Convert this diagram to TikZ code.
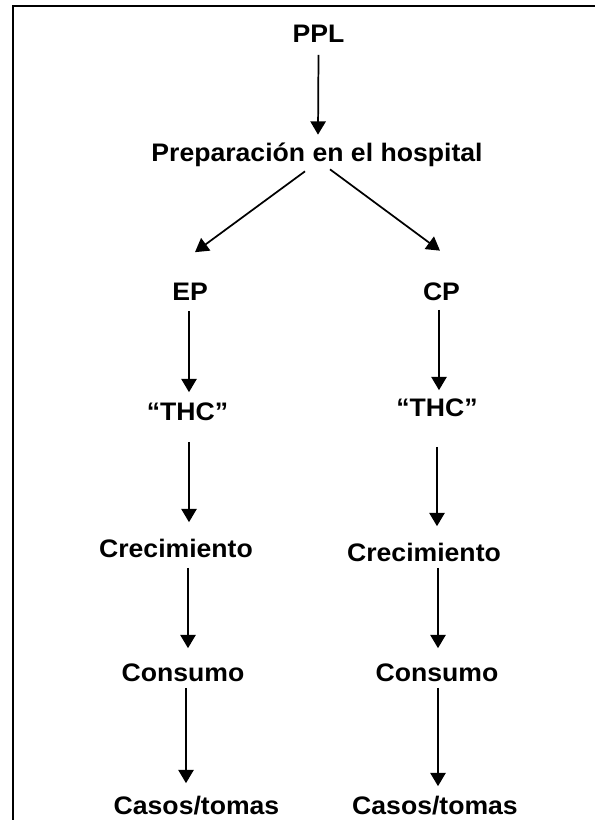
\documentclass[tikz,border=0pt]{standalone}
\usepackage{fontspec}
\setmainfont{Liberation Sans}[FakeStretch=1.05]
\usetikzlibrary{arrows.meta,calc}
\tikzset{
  lbl/.style={font=\fontsize{19}{21}\selectfont\bfseries,inner sep=0pt,text height=13.6pt,text depth=0pt},
  arr/.style={line width=1.3pt,-{Triangle[length=10pt,width=11.5pt]}},
}
\begin{document}
\begin{tikzpicture}[x=0.75pt,y=0.75pt,yscale=-1,xscale=1]
\useasboundingbox (0,0) rectangle (595,820);
%Frame
\draw [line width=1.5pt] (13,820) -- (13,5.7) -- (596,5.7) ;
% Text Node
\node [lbl] (ppl) at (318.5,33.5) {PPL};
% Text Node
\node [lbl] (prep) at (317,152) {Preparación en el hospital};
% Text Node
\node [lbl] (ep) at (190,291.5) {EP};
% Text Node
\node [lbl] (cp) at (441.5,291) {CP};
% Text Node
\node [lbl] (thcL) at (187.5,411) {“THC”};
% Text Node
\node [lbl] (thcR) at (437,407) {“THC”};
% Text Node
\node [lbl] (crecL) at (176,548) {Crecimiento};
% Text Node
\node [lbl] (crecR) at (424,552) {Crecimiento};
% Text Node
\node [lbl] (consL) at (183,672) {Consumo};
% Text Node
\node [lbl] (consR) at (437,672) {Consumo};
% Text Node
\node [lbl] (casL) at (196.5,805) {Casos/tomas};
% Text Node
\node [lbl] (casR) at (435,805) {Casos/tomas};
%Straight Lines
\draw [arr] ($(ppl.south)+(0,12)$) -- ($(prep.north)+(1,-8)$) ;
\draw [arr] ($(prep.south)+(-12,10)$) -- ($(ep.north)+(5,-30)$) ;
\draw [arr] ($(prep.south)+(13,8)$) -- ($(cp.north)+(-1.5,-31)$) ;
%Straight Lines (left)
\draw [arr] ($(ep.south)+(-1,10.5)$) -- ($(thcL.north)+(1.5,-9.5)$) ;
\draw [arr] ($(thcL.south)+(1.5,21.5)$) -- ($(crecL.north)+(13,-16.5)$) ;
\draw [arr] ($(crecL.south)+(12,10.5)$) -- ($(consL.north)+(5,-14.5)$) ;
\draw [arr] ($(consL.south)+(3,6.5)$) -- ($(casL.north)+(-10.5,-12.5)$) ;
%Straight Lines (right)
\draw [arr] ($(cp.south)+(-2.5,9.5)$) -- ($(thcR.north)+(2,-7.5)$) ;
\draw [arr] ($(thcR.south)+(0,30.5)$) -- ($(crecR.north)+(13,-16.5)$) ;
\draw [arr] ($(crecR.south)+(14,6.5)$) -- ($(consR.north)+(1,-14.5)$) ;
\draw [arr] ($(consR.south)+(1,6.5)$) -- ($(casR.north)+(3,-9.5)$) ;
\end{tikzpicture}
\end{document}
